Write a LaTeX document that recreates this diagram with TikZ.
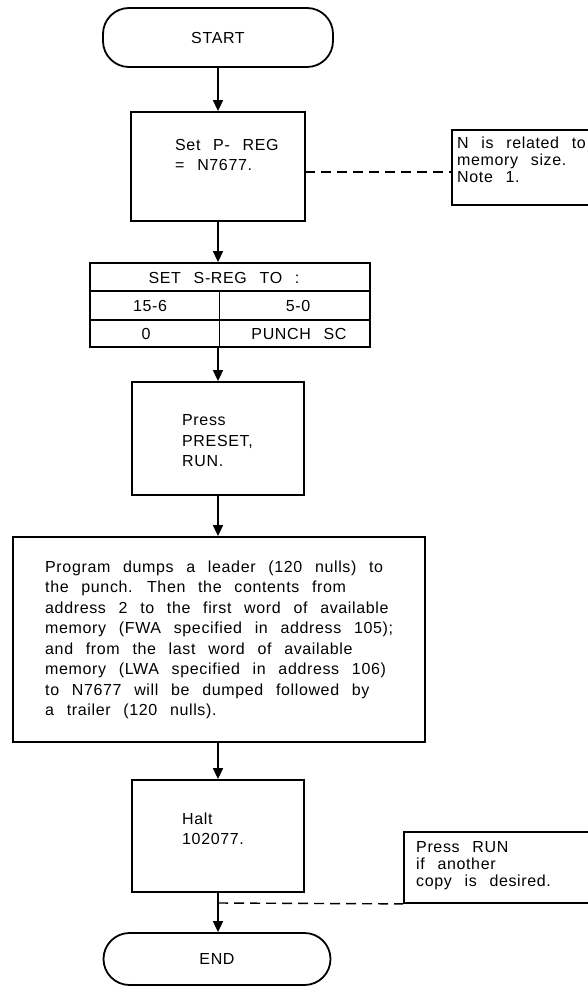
\documentclass[tikz,border=0pt]{standalone}
\usepackage{fontspec}
\setmainfont{Liberation Sans}
\newfontfamily\lsf[LetterSpace=4,WordSpace=2.5]{Liberation Sans}
\usetikzlibrary{arrows.meta}
\begin{document}
\begin{tikzpicture}[x=1pt,y=-1pt,
  every node/.style={font=\fontsize{16}{20.5}\selectfont\lsf},
  box/.style={draw,line width=1.8pt,inner sep=0pt},
  term/.style={draw,line width=1.8pt,inner sep=0pt,rounded corners=26pt},
  txt/.style={inner sep=0pt,align=left,anchor=west},
  arr/.style={line width=1.6pt,-{Triangle[width=10pt,length=11pt]}},
  dashline/.style={line width=1.4pt,dash pattern=on 10pt off 6pt}]
\useasboundingbox (0,0) rectangle (587,992);

% START
\node[term,minimum width=230pt,minimum height=59pt] (start) at (218,37.5) {START};

% P-REG
\node[box,minimum width=174pt,minimum height=109pt] (preg) at (218,166.5) {};
\node[txt] (pregt) at (175,155) {Set P- REG\\= N7677.};

% Note 1
\node[box,minimum width=150pt,minimum height=75pt] (note1) at (527,167.5) {};
\node[txt,font=\fontsize{16}{17}\selectfont\lsf] (note1t) at (457,160) {N is related to\\memory size.\\Note 1.};
\coordinate (d1) at (305,172);
\draw[dashline] (d1) -- (d1 -| note1.west);

% table
\node[box,minimum width=280pt,minimum height=84pt] (tab) at (230,305) {};
\draw[line width=1.5pt] (90,291) -- (370,291);
\draw[line width=1.5pt] (90,320) -- (370,320);
\draw[line width=1.0pt] (219,291) -- (219,347);
\node (th) at (224,278) {SET S-REG TO :};
\node (c11) at (150,306) {15-6};
\node (c12) at (298,306) {5-0};
\node (c21) at (146,334) {0};
\node (c22) at (299,334) {PUNCH SC};

% Press
\node[box,minimum width=172pt,minimum height=113pt] (press) at (218,438.5) {};
\node[txt] (presst) at (182,441) {Press\\PRESET,\\RUN.};

% big box
\node[box,minimum width=412pt,minimum height=205pt] (big) at (219,639.5) {};
\node[txt] (bigt) at (45,640) {Program dumps a leader (120 nulls) to\\the punch. Then the contents from\\address 2 to the first word of available\\memory (FWA specified in address 105);\\and from the last word of available\\memory (LWA specified in address 106)\\to N7677 will be dumped followed by\\a trailer (120 nulls).};

% Halt
\node[box,minimum width=172pt,minimum height=112pt] (halt) at (218,836) {};
\node[txt] (haltt) at (182,829) {Halt\\102077.};

% Note 2
\node[box,minimum width=196pt,minimum height=71pt] (note2) at (502,867.5) {};
\node[txt,font=\fontsize{16}{17}\selectfont\lsf] (note2t) at (416,866) {Press RUN\\if another\\copy is desired.};

% END
\node[term,minimum width=227pt,minimum height=52pt] (end) at (217,959) {END};

% arrows
\draw[arr] (start.south -| preg.north) -- (preg.north);
\draw[arr] (preg.south) -- (preg.south |- tab.north);
\draw[arr] (press.north |- tab.south) -- (press.north);
\draw[arr] (press.south) -- (press.south |- big.north);
\draw[arr] (halt.north |- big.south) -- (halt.north);
\draw[arr] (halt.south) -- (halt.south |- end.north);
\coordinate (d2) at (218,903);
\draw[dashline] (d2) -- (note2.south west);
\end{tikzpicture}
\end{document}
